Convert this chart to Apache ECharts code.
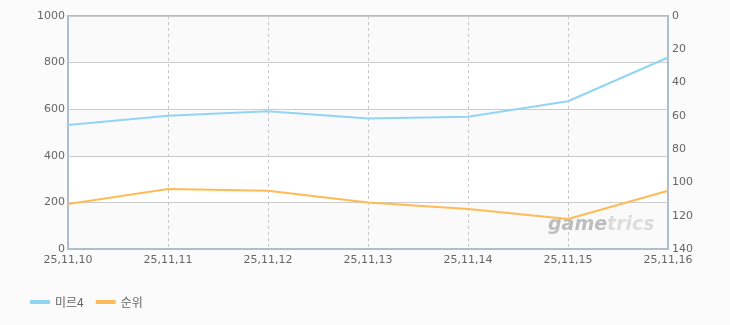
<!DOCTYPE html>
<html><head><meta charset="utf-8">
<script src="https://cdn.jsdelivr.net/npm/echarts@6/dist/echarts.min.js"></script>
<style>html,body{margin:0;padding:0;background:#fbfbfb;}#c{width:730px;height:325px;}</style>
</head><body><div id="c"></div>
<script>
const categories = ['25,11,10','25,11,11','25,11,12','25,11,13','25,11,14','25,11,15','25,11,16'];
const usersValues = [532, 572, 591, 560, 568, 634, 822];
const rankValues = [113, 104, 105, 112, 116, 122, 105];
const seriesNames = ['미르4', '순위'];

const chart = echarts.init(document.getElementById('c'), null, {renderer:'canvas'});
const labelStyle = {color:'#666', fontSize:11, fontFamily:'DejaVu Sans, sans-serif'};
chart.setOption({
  backgroundColor:'#fbfbfb',
  animation:false,
  grid:{left:68, right:62, top:16, bottom:76, show:true, borderColor:'#aebdd0', borderWidth:2, backgroundColor:'transparent'},
  legend:{
    left:25, top:291, icon:'rect', itemWidth:20, itemHeight:4, itemGap:12,
    textStyle:{color:'#666', fontSize:12, fontFamily:'Noto Sans CJK KR, sans-serif'},
    data:seriesNames
  },
  xAxis:{
    type:'category', data:categories, boundaryGap:false,
    axisLine:{lineStyle:{color:'#aebdd0', width:2}},
    axisTick:{show:false},
    axisLabel:Object.assign({margin:6, interval:0}, labelStyle),
    splitLine:{show:true, lineStyle:{color:'#c8c8c8', type:[3,3], width:1}}
  },
  yAxis:[{
    type:'value', min:0, max:1000, interval:200,
    axisLine:{show:true, lineStyle:{color:'#aebdd0', width:2}},
    axisTick:{show:false},
    axisLabel:Object.assign({margin:3, formatter:function(v){return String(v);}}, labelStyle),
    splitLine:{show:true, lineStyle:{color:'#cccccc', width:1}},
    splitArea:{show:true, areaStyle:{color:['#fafafa','#ffffff']}}
  },{
    type:'value', min:0, max:140, interval:20, inverse:true,
    axisLine:{show:true, lineStyle:{color:'#aebdd0', width:2}},
    axisTick:{show:false},
    axisLabel:Object.assign({margin:4}, labelStyle),
    splitLine:{show:false}
  }],
  graphic:[{
    type:'text', left:548, top:216, z:1, silent:true,
    style:{
      text:'{a|game}{b|trics}',
      rich:{
        a:{fill:'#bdbdbd', fontSize:19, fontStyle:'italic', fontWeight:'bold', fontFamily:'DejaVu Sans, sans-serif'},
        b:{fill:'#dcdcdc', fontSize:19, fontStyle:'italic', fontWeight:'bold', fontFamily:'DejaVu Sans, sans-serif'}
      }
    }
  }],
  series:[{
    name:seriesNames[0], type:'line', data:usersValues, yAxisIndex:0,
    showSymbol:false, symbol:'none', lineStyle:{color:'#93d4f4', width:2}, itemStyle:{color:'#93d4f4'}, z:3
  },{
    name:seriesNames[1], type:'line', data:rankValues, yAxisIndex:1,
    showSymbol:false, symbol:'none', lineStyle:{color:'#ffbb55', width:2}, itemStyle:{color:'#ffbb55'}, z:3
  }]
});
</script></body></html>
